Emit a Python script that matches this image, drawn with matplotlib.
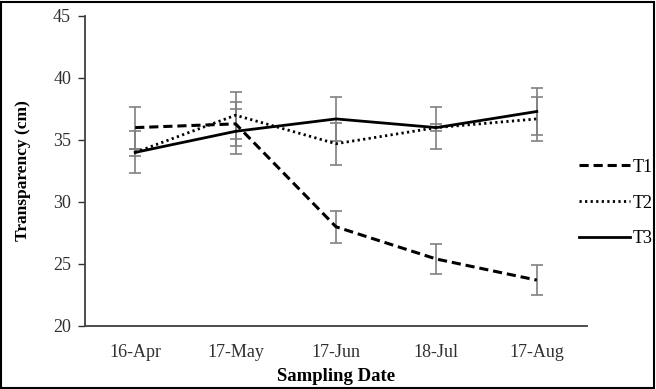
import matplotlib
matplotlib.use("Agg")
import matplotlib.pyplot as plt
from matplotlib.patches import Rectangle

dates = ["16-Apr", "17-May", "17-Jun", "18-Jul", "17-Aug"]
t1 = [36.0, 36.3, 28.0, 25.4, 23.7]
t1_err = [1.7, 1.8, 1.3, 1.2, 1.2]
t2 = [34.0, 37.0, 34.7, 36.0, 36.7]
t2_err = [0.3, 1.9, 1.7, 0.3, 1.8]
t3 = [34.0, 35.7, 36.7, 36.0, 37.3]
t3_err = [1.7, 1.8, 1.8, 1.7, 1.9]

plt.rcParams["font.family"] = ["Liberation Serif", "DejaVu Serif"]

fig = plt.figure(figsize=(6.56, 3.89), dpi=100)
ax = fig.add_axes([85 / 656, (389 - 326) / 389, (587 - 85) / 656, (326 - 16) / 389])
x = list(range(len(dates)))

ebstyle = dict(ecolor="#808080", elinewidth=1.2, capsize=4.5, capthick=1.2)
ax.errorbar(x, t1, yerr=t1_err, color="black", lw=2.2, ls=(0, (3, 1.6)), label="T1", **ebstyle)
ax.errorbar(x, t2, yerr=t2_err, color="black", lw=2.0, ls=(0, (0.8, 1.2)), label="T2", **ebstyle)
ax.errorbar(x, t3, yerr=t3_err, color="black", lw=2.0, ls="-", label="T3", **ebstyle)

ax.set_xlim(-0.5, 4.5)
ax.set_ylim(20, 45)
ax.set_yticks([20, 25, 30, 35, 40, 45])
ax.set_xticks(x)
ax.set_xticklabels(dates)
ax.tick_params(axis="x", length=0, pad=13, labelsize=13, colors="#303030")
ax.tick_params(axis="y", length=5, width=1, direction="out", pad=5, labelsize=13, colors="#303030")
for s in ["top", "right"]:
    ax.spines[s].set_visible(False)
for s in ["left", "bottom"]:
    ax.spines[s].set_color("#404040")
    ax.spines[s].set_linewidth(1.3)

ax.set_xlabel("Sampling Date", fontsize=13.5, fontweight="bold", labelpad=5)
ax.set_ylabel("Transparency (cm)", fontsize=12.5, fontweight="bold", labelpad=16)

handles, labels = ax.get_legend_handles_labels()
handles = [h[0] for h in handles]
leg = fig.legend(handles, labels, loc="center left", bbox_to_anchor=(572 / 656, 1 - 203 / 389),
                 frameon=False, fontsize=13, handlelength=2.8, handletextpad=0.15,
                 labelspacing=1.05, borderaxespad=0)

fig.patches.append(Rectangle((0.002, 0.003), 0.995, 0.993, transform=fig.transFigure,
                             fill=False, edgecolor="black", lw=1.5))

fig.savefig("out.png", dpi=100)
